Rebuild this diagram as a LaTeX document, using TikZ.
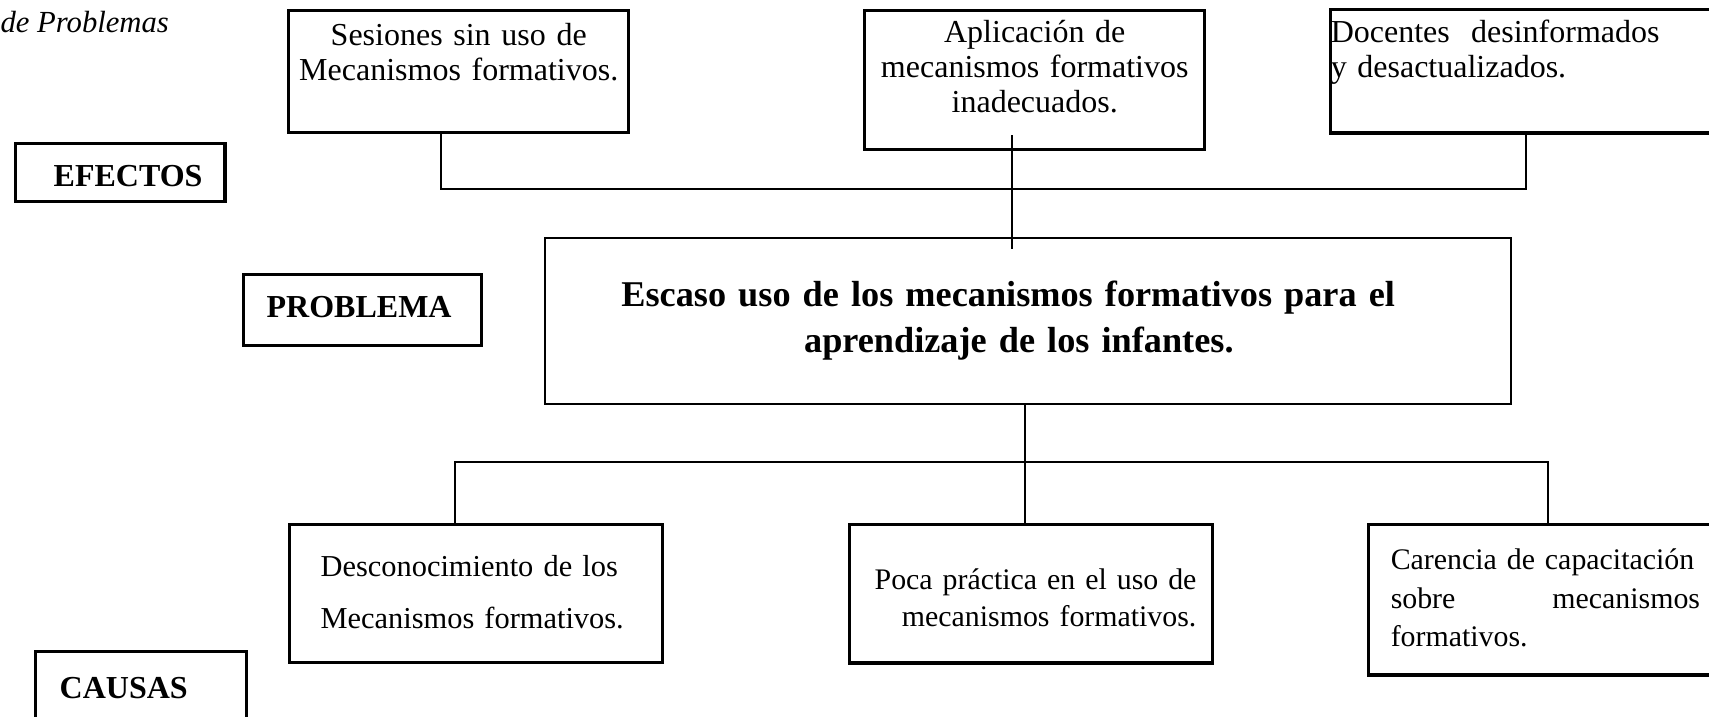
\documentclass[tikz,border=0pt]{standalone}
\usepackage{fontspec}
\setmainfont{Liberation Serif}
\usetikzlibrary{calc}
\tikzset{
  caja/.style={draw, line width=1.3pt, inner sep=0pt, anchor=north west},
  efecto/.style={caja, font=\fontsize{12}{13}\selectfont},
  causa/.style={caja, font=\fontsize{11.2}{14}\selectfont},
  rotulo/.style={caja, align=left, font=\fontsize{12}{14}\selectfont\bfseries},
  linea/.style={line width=0.8pt}
}
\begin{document}
\begin{tikzpicture}[x=0.375pt, y=-0.375pt]
  \useasboundingbox (0,0) rectangle (1709,716);
  % titulo
  \node[anchor=west, inner sep=0pt, font=\fontsize{11.5}{14}\selectfont\itshape] (fig) at (0,22) {de Problemas};
  % rotulos
  \node[rotulo, inner xsep=14.25pt, text width=49.9pt, text height=16.1pt, text depth=5.6pt] (efe) at (14,142) {EFECTOS};
  \node[rotulo, inner xsep=8.6pt, text width=72pt, text height=16.1pt, text depth=10.5pt] (plb) at (242,273) {PROBLEMA};
  \node[rotulo, inner xsep=9pt, text width=61.1pt, text height=17.6pt, text depth=16.1pt] (cau) at (34,650) {CAUSAS};
  % efectos
  \node[efecto, align=center, text width=127.5pt, text height=13.1pt, text depth=32.6pt] (ses) at (287,9) {Sesiones sin uso de\\Mecanismos formativos.};
  \node[efecto, align=center, text width=127.5pt, text height=12pt, text depth=40.1pt] (apl) at (863,9) {Aplicaci\'on de\\mecanismos formativos\\inadecuados.};
  \node[efecto, align=left, text width=157.5pt, text height=12.4pt, text depth=33.75pt] (doc) at (1329,8) {Docentes~ desinformados\\y desactualizados.};
  % problema
  \node[caja, line width=0.9pt, align=center, text width=362.25pt, text height=25.5pt, text depth=36.75pt,
    font=\fontsize{13.6}{17.25}\selectfont\bfseries] (pro) at (544,237)
    {\hspace*{-15pt}Escaso uso de los mecanismos formativos para el\\\hspace*{-7pt}aprendizaje de los infantes.};
  % causas
  \node[causa, font=\fontsize{11.4}{19.5}\selectfont, align=left, inner xsep=11.6pt, text width=116.6pt, text height=19.5pt, text depth=32.25pt] (des) at (288,523) {Desconocimiento de los\\Mecanismos formativos.};
  \node[causa, font=\fontsize{11.2}{13.9}\selectfont, align=right, inner xsep=6pt, text width=124pt, text height=24.4pt, text depth=27.4pt] (poc) at (848,523) {Poca pr\'actica en el uso de\\mecanismos formativos.};
  \node[causa, font=\fontsize{11.2}{14.4}\selectfont, align=left, inner xsep=8.25pt, text width=116pt, text height=16.9pt, text depth=39.4pt] (car) at (1367,523) {Carencia de capacitaci\'on\\sobre\hfill mecanismos\\formativos.};
  % conectores de efectos
  \coordinate (e0) at (1012,189);
  \coordinate (e1) at (441,189);
  \coordinate (e2) at (1526,189);
  \draw[linea] (ses.south -| e1) -- (e1) -- (e2) -- (doc.south -| e2);
  \draw[linea] ($(apl.south -| e0)+(0,-16)$) -- ($(pro.north -| e0)+(0,12)$);
  % conectores de causas
  \coordinate (c0) at (1025,462);
  \coordinate (c1) at (455,462);
  \coordinate (c2) at (1548,462);
  \draw[linea] (pro.south -| c0) -- (poc.north -| c0);
  \draw[linea] (des.north -| c1) -- (c1) -- (c2) -- (car.north -| c2);
\end{tikzpicture}
\end{document}
